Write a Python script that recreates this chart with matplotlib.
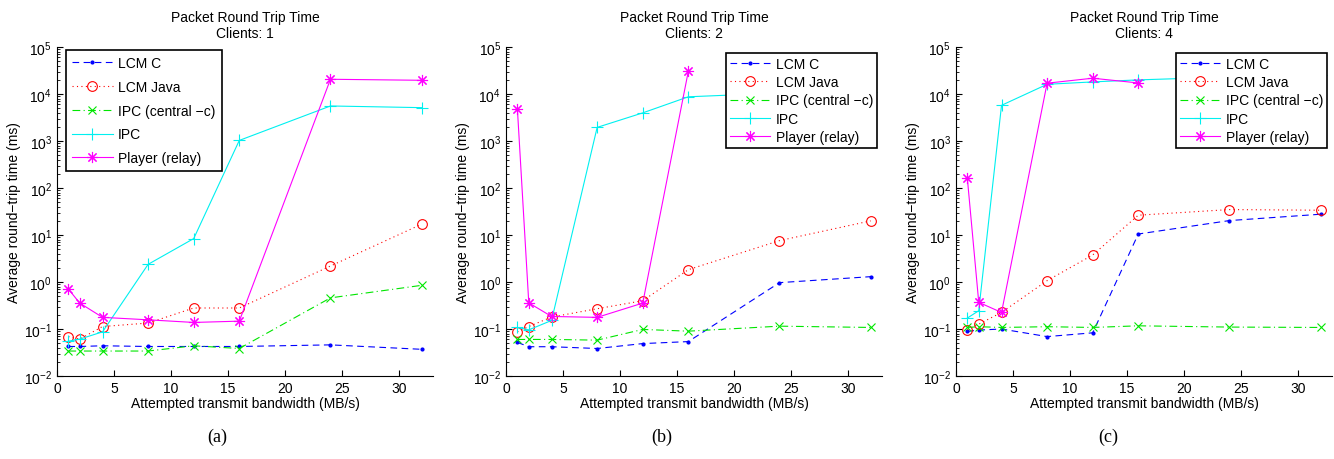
import matplotlib
matplotlib.use("Agg")
import matplotlib.pyplot as plt

plt.rcParams['font.family'] = ['Liberation Sans', 'DejaVu Sans']
plt.rcParams['mathtext.fontset'] = 'custom'
plt.rcParams['mathtext.rm'] = 'Liberation Sans'

# attempted transmit bandwidth (MB/s)
bw = [1, 2, 4, 8, 12, 16, 24, 32]

# clients: 1
lcmc_1 = [0.0425, 0.0425, 0.044, 0.0425, 0.0425, 0.0425, 0.046, 0.037]
java_1 = [0.069, 0.061, 0.113, 0.134, 0.28, 0.28, 2.19, 17]
ipcc_1 = [0.034, 0.034, 0.034, 0.034, 0.044, 0.0385, 0.46, 0.85]
ipc_1 = [0.055, 0.061, 0.087, 2.38, 8.4, 1030, 5570, 5130]
player_1 = [0.71, 0.356, 0.177, 0.157, 0.138, 0.147, 20600, 19600]

# clients: 2
lcmc_2 = [0.052, 0.042, 0.042, 0.0385, 0.049, 0.054, 0.97, 1.3]
java_2 = [0.087, 0.113, 0.18, 0.27, 0.40, 1.83, 7.6, 20]
ipcc_2 = [0.06, 0.06, 0.06, 0.058, 0.098, 0.09, 0.115, 0.108]
ipc_2 = [0.108, 0.096, 0.152, 1950, 3970, 8730, 10500, 11000]
player_2 = [4890, 0.36, 0.185, 0.177, 0.356, 30500]

# clients: 4
lcmc_4 = [0.089, 0.095, 0.1, 0.069, 0.083, 10.5, 20.3, 27.7]
java_4 = [0.096, 0.127, 0.225, 1.07, 3.76, 26.4, 34.8, 33.7]
ipcc_4 = [0.108, 0.112, 0.108, 0.112, 0.108, 0.117, 0.11, 0.108]
ipc_4 = [0.171, 0.245, 5750, 16100, 18100, 20000, 23000, 25000]
player_4 = [162, 0.37, 0.225, 17000, 21700, 17200]

clients = ['1', '2', '4']
captions = ['(a)', '(b)', '(c)']
panels = [
    (lcmc_1, java_1, ipcc_1, ipc_1, player_1),
    (lcmc_2, java_2, ipcc_2, ipc_2, player_2),
    (lcmc_4, java_4, ipcc_4, ipc_4, player_4),
]

fs = 10
fig = plt.figure(figsize=(13.34, 4.6), dpi=100)
lefts = [0.0427, 0.3793, 0.7166]
cap_x = [0.163, 0.496, 0.831]

for k in range(3):
    lcmc, java, ipcc, ipc, player = panels[k]
    ax = fig.add_axes([lefts[k], 0.1804, 0.2819, 0.7152])
    ax.plot(bw, lcmc, color='#0000ff', ls=(0, (6, 4)), lw=0.8, marker='.', ms=4, label='LCM C')
    ax.plot(bw, java, color='#ff0000', ls=(0, (1, 3)), lw=0.8, marker='o', ms=7,
            mfc='none', mew=0.8, label='LCM Java')
    ax.plot(bw, ipcc, color='#00e600', ls=(0, (7, 3, 1, 3)), lw=0.8, marker='x',
            ms=6, mew=0.8, label='IPC (central \u2212c)')
    ax.plot(bw, ipc, color='#00f0f0', ls='-', lw=0.8, marker='+', ms=8, mew=0.8, label='IPC')
    ax.plot(bw[:len(player)], player, color='#ff00ff', ls='-', lw=0.8, marker=(8, 2, 0),
            ms=8, mew=0.8, label='Player (relay)')

    ax.set_yscale('log')
    ax.set_ylim(1e-2, 1e5)
    ax.set_xlim(0, 33)
    ax.set_xticks([0, 5, 10, 15, 20, 25, 30])
    ax.set_yticks([10.0 ** e for e in range(-2, 6)])
    ax.spines['top'].set_visible(False)
    ax.spines['right'].set_visible(False)
    ax.tick_params(which='both', direction='in', labelsize=fs)
    ax.tick_params(which='major', length=4)
    ax.tick_params(which='minor', length=2)
    ax.set_title('Packet Round Trip Time\nClients: ' + clients[k], fontsize=fs, pad=7,
                 linespacing=1.2)
    ax.set_xlabel('Attempted transmit bandwidth (MB/s)', fontsize=fs, labelpad=1)
    ax.set_ylabel('Average round\u2212trip time (ms)', fontsize=fs, labelpad=2)

    if k == 0:
        leg = ax.legend(loc='upper left', bbox_to_anchor=(0.024, 0.991), fontsize=fs,
                        handlelength=2.9, handletextpad=0.4, labelspacing=0.7,
                        borderpad=0.45, borderaxespad=0, fancybox=False, framealpha=1)
    else:
        leg = ax.legend(loc='upper right', bbox_to_anchor=(0.987, 0.982), fontsize=fs,
                        handlelength=2.9, handletextpad=0.4, labelspacing=0.3,
                        borderpad=0.3, borderaxespad=0, fancybox=False, framealpha=1)
    leg.get_frame().set_edgecolor('black')
    leg.get_frame().set_linewidth(1.2)

    fig.text(cap_x[k], 0.05, captions[k], ha='center', va='center', fontsize=13,
             family='Liberation Serif')

fig.savefig('out.png', dpi=100)
